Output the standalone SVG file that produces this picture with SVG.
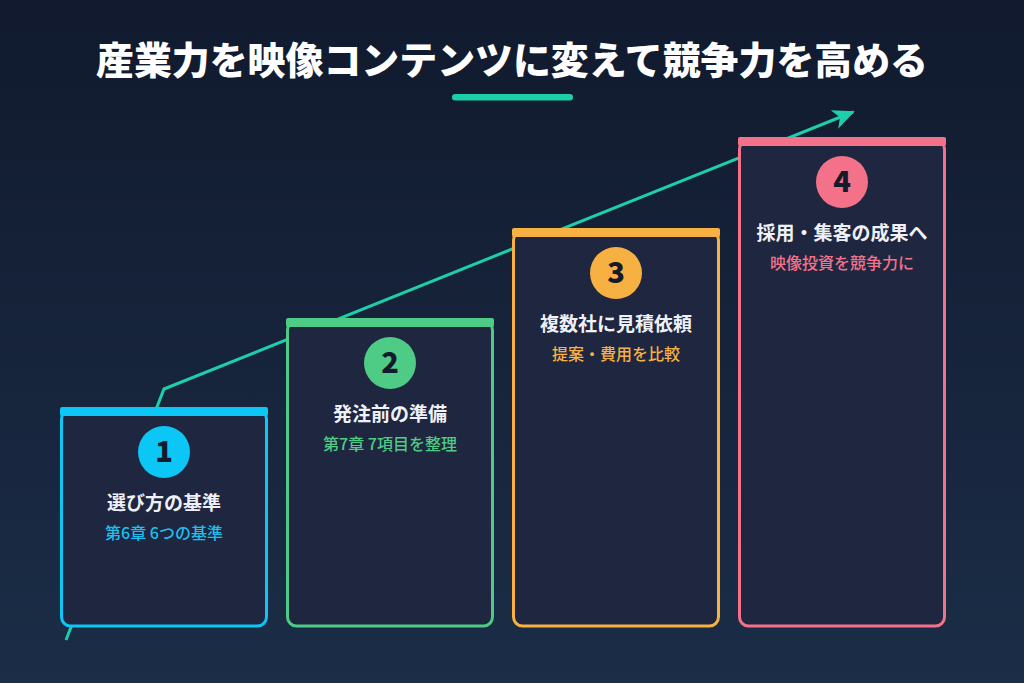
<svg xmlns="http://www.w3.org/2000/svg" width="1024" height="683" viewBox="0 0 1024 683">
<defs>
<linearGradient id="bg" x1="0" y1="0" x2="0" y2="1">
<stop offset="0" stop-color="#111a2e"/>
<stop offset="1" stop-color="#1b2d47"/>
</linearGradient>
<marker id="ah" markerWidth="24" markerHeight="20" refX="20" refY="10" orient="auto" markerUnits="userSpaceOnUse">
<path d="M0,0 L22,10 L0,20 L6,10 Z" fill="#1ccfaa"/>
</marker>
<style>
.box{fill:#1e2640;stroke-width:3}
.num{font-family:"Noto Sans CJK JP","Noto Sans",sans-serif;font-weight:900;font-size:29px;fill:#131a2c;text-anchor:middle}
.ttl{font-family:"Noto Sans CJK JP",sans-serif;font-weight:700;font-size:19px;fill:#eef1f8;text-anchor:middle}
.sub{font-family:"Noto Sans CJK JP",sans-serif;font-weight:500;font-size:16px;text-anchor:middle}
</style>
</defs>
<rect width="1024" height="683" fill="url(#bg)"/>
<text x="512" y="74" text-anchor="middle" font-family="Noto Sans CJK JP, sans-serif" font-weight="900" font-size="38" fill="#ffffff" textLength="832" lengthAdjust="spacingAndGlyphs">産業力を映像コンテンツに変えて競争力を高める</text>
<rect x="452" y="94" width="121" height="6.5" rx="3.2" fill="#1ccfaa"/>
<g id="connectors">
<polyline points="66,640 164,389 853,112" fill="none" stroke="#1ccfaa" stroke-width="3" marker-end="url(#ah)"/>
</g>
<g id="step1">
<rect class="box" x="61.5" y="410" width="205" height="216" rx="9" stroke="#0cc6f5"/>
<rect x="60" y="407" width="208" height="9" rx="2" fill="#0cc6f5"/>
<circle cx="164" cy="452" r="26" fill="#0cc6f5"/>
<text class="num" x="164" y="462">1</text>
<text class="ttl" x="164" y="510">選び方の基準</text>
<text class="sub" x="164" y="539" fill="#1cc0ee">第6章 6つの基準</text>
</g>
<g id="step2">
<rect class="box" x="287.5" y="321" width="205" height="305" rx="9" stroke="#4ecb85"/>
<rect x="286" y="318" width="208" height="9" rx="2" fill="#4ecb85"/>
<circle cx="390" cy="363" r="26" fill="#4ecb85"/>
<text class="num" x="390" y="373">2</text>
<text class="ttl" x="390" y="421">発注前の準備</text>
<text class="sub" x="390" y="450" fill="#4ecb85">第7章 7項目を整理</text>
</g>
<g id="step3">
<rect class="box" x="513.5" y="231" width="205" height="395" rx="9" stroke="#f7b142"/>
<rect x="512" y="228" width="208" height="9" rx="2" fill="#f7b142"/>
<circle cx="616" cy="273" r="26" fill="#f7b142"/>
<text class="num" x="616" y="283">3</text>
<text class="ttl" x="616" y="331">複数社に見積依頼</text>
<text class="sub" x="616" y="360" fill="#f7b142">提案・費用を比較</text>
</g>
<g id="step4">
<rect class="box" x="739.5" y="140" width="205" height="486" rx="9" stroke="#f4718a"/>
<rect x="738" y="137" width="208" height="9" rx="2" fill="#f4718a"/>
<circle cx="842" cy="182" r="26" fill="#f4718a"/>
<text class="num" x="842" y="192">4</text>
<text class="ttl" x="842" y="240">採用・集客の成果へ</text>
<text class="sub" x="842" y="269" fill="#f4718a">映像投資を競争力に</text>
</g>
</svg>
